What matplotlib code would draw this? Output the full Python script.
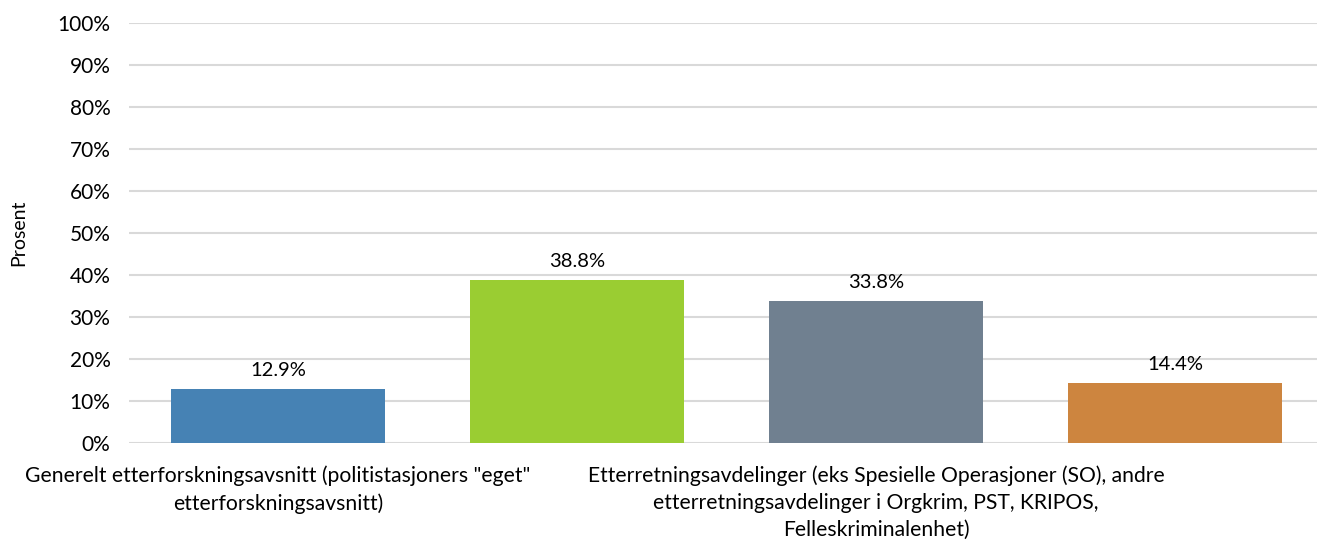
import matplotlib
matplotlib.use("Agg")
import matplotlib.pyplot as plt
from matplotlib.ticker import PercentFormatter

plt.rcParams['font.family'] = ['Lato', 'DejaVu Sans']

# Data
categories = [
    'Generelt etterforskningsavsnitt (politistasjoners "eget"\netterforskningsavsnitt)',
    '',
    'Etterretningsavdelinger (eks Spesielle Operasjoner (SO), andre\netterretningsavdelinger i Orgkrim, PST, KRIPOS,\nFelleskriminalenhet)',
    '',
]
values = [12.9, 38.8, 33.8, 14.4]
colors = ['#4682B4', '#9ACD32', '#708090', '#CD853F']
y_ticks = [0, 10, 20, 30, 40, 50, 60, 70, 80, 90, 100]

fig = plt.figure(figsize=(13.17, 5.45), dpi=100)
ax_left, ax_right = 128.5, 1324.5
ax = fig.add_axes([ax_left/1317, 1 - 443/545, (ax_right - ax_left)/1317, (443 - 23)/545])

x = list(range(len(values)))
bars = ax.bar(x, values, width=0.715, color=colors, zorder=3)
for xi, v in zip(x, values):
    ax.text(xi, v + 2.3, f"{v:.1f}%", ha='center', va='bottom', fontsize=14.5, color='#000000')

ax.set_xlim(-0.5, len(values) - 0.5)
ax.set_ylim(0, 100)
ax.set_yticks(y_ticks)
ax.yaxis.set_major_formatter(PercentFormatter(decimals=0))
ax.set_xticks(x)
ax.set_xticklabels(categories, fontsize=15.2, linespacing=1.45)
ax.tick_params(axis='x', length=0, pad=16)
ax.tick_params(axis='y', length=0, pad=13, labelsize=15)
ax.grid(axis='y', color='#d9d9d9', linewidth=1.5, zorder=0)
for s in ax.spines.values():
    s.set_visible(False)
ax.set_ylabel('Prosent', fontsize=14)
ax.yaxis.set_label_coords((27 - ax_left)/(ax_right - ax_left), 0.5)

fig.savefig('out.png', dpi=100)
